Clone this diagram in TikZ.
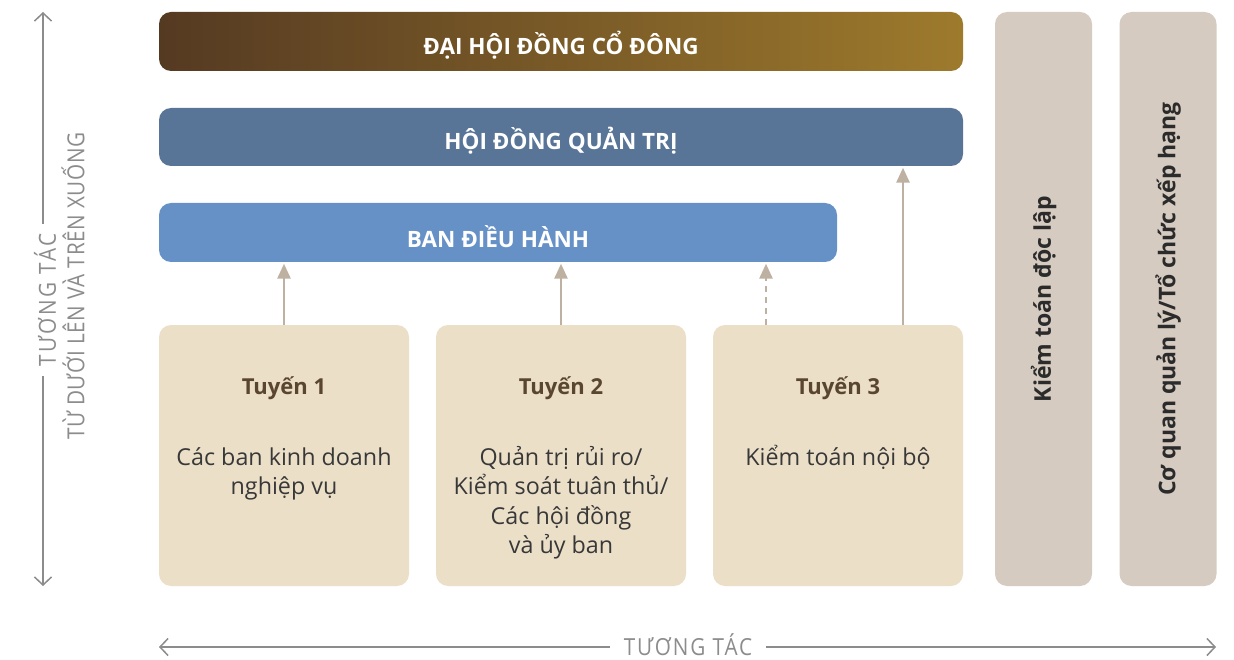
\documentclass[tikz,border=0pt]{standalone}
\usepackage{fontspec}
\setmainfont{Open Sans}
\newfontfamily\axisfont{Open Sans}[FakeStretch=0.88, LetterSpace=3]
\usetikzlibrary{arrows.meta}
\definecolor{gradA}{HTML}{553A22}
\definecolor{gradB}{HTML}{9D7A2C}
\definecolor{hdqtc}{HTML}{587497}
\definecolor{bdhc}{HTML}{6591C7}
\definecolor{tuyenc}{HTML}{EBDFC8}
\definecolor{colc}{HTML}{D6CBC0}
\definecolor{arrc}{HTML}{BFB1A1}
\definecolor{axisc}{HTML}{8C8C8C}
\definecolor{titlec}{HTML}{5A4530}
\definecolor{bodyc}{HTML}{383838}
\definecolor{coltextc}{HTML}{2B2B2B}
\tikzset{
  bar/.style={rounded corners=12pt, inner sep=0pt},
  bartext/.style={inner sep=0pt, text=white,
    font=\fontsize{22.5pt}{26pt}\selectfont\bfseries},
  tbox/.style={rounded corners=12pt, fill=tuyenc, inner sep=0pt,
    minimum width=250pt, minimum height=261pt},
  ttitle/.style={anchor=base, inner sep=0pt, text=titlec,
    font=\fontsize{22pt}{26pt}\selectfont\bfseries},
  tbody/.style={anchor=north, inner sep=0pt, align=center, text=bodyc,
    font=\fontsize{23.3pt}{29.5pt}\selectfont},
  colbox/.style={rounded corners=12pt, fill=colc, inner sep=0pt, rotate=90,
    minimum width=574pt, minimum height=97pt, text=coltextc,
    font=\fontsize{23pt}{26pt}\selectfont\bfseries},
  uparr/.style={draw=arrc, line width=2.8pt, -{Triangle[length=15pt,width=13pt]},
    shorten >=1.5pt},
  axisline/.style={draw=axisc, line width=1.5pt,
    {Straight Barb[length=8pt,width=17pt]}-{Straight Barb[length=8pt,width=17pt]}},
  axistext/.style={text=axisc, inner sep=0pt,
    font=\fontsize{23.5pt}{26pt}\axisfont},
}
\begin{document}
\begin{tikzpicture}[x=1pt,y=-1pt]
\useasboundingbox (0,0) rectangle (1234,660);
\fill[white] (0,0) rectangle (1234,660);

% top bars
\node[bar, left color=gradA, right color=gradB, minimum width=804pt, minimum height=59pt]
  (dhcd) at (561,41.5) {};
\node[bartext] (dhcdt) at ([yshift=-4pt]dhcd.center) {ĐẠI HỘI ĐỒNG CỔ ĐÔNG};
\node[bar, fill=hdqtc, minimum width=804pt, minimum height=58pt]
  (hdqt) at (561,137) {};
\node[bartext] (hdqtt) at ([yshift=-4pt]hdqt.center) {HỘI ĐỒNG QUẢN TRỊ};
\node[bar, fill=bdhc, minimum width=678pt, minimum height=59pt]
  (bdh) at (498,232.5) {};
\node[bartext] (bdht) at ([yshift=-4pt]bdh.center) {BAN ĐIỀU HÀNH};

% tuyen boxes
\node[tbox] (t1) at (284,455.5) {};
\node[tbox] (t2) at (561,455.5) {};
\node[tbox] (t3) at (838,455.5) {};
\node[ttitle] (t1h) at (284,394) {Tuyến 1};
\node[ttitle] (t2h) at (561,394) {Tuyến 2};
\node[ttitle] (t3h) at (838,394) {Tuyến 3};
\node[tbody] (t1b) at (284,442) {\rule{0pt}{23pt}Các ban kinh doanh\\nghiệp vụ};
\node[tbody] (t2b) at (561,442) {\rule{0pt}{23pt}Quản trị rủi ro/\\Kiểm soát tuân thủ/\\Các hội đồng\\và ủy ban};
\node[tbody] (t3b) at (838,442) {\rule{0pt}{23pt}Kiểm toán nội bộ};

% right columns
\node[colbox] (c1) at (1043.5,299) {Kiểm toán độc lập};
\node[colbox] (c2) at (1168,299) {Cơ quan quản lý/Tổ chức xếp hạng};

% arrows
\draw[uparr] (t1.north) -- (t1.north |- bdh.south);
\draw[uparr] (t2.north) -- (t2.north |- bdh.south);
\draw[uparr, dash pattern=on 6pt off 5pt] ([xshift=-72pt]t3.north) -- ([xshift=-72pt]t3.north |- bdh.south);
\draw[uparr] ([xshift=65pt]t3.north) -- ([xshift=65pt]t3.north |- hdqt.south);

% left axis
\coordinate (la) at (43,12);
\coordinate (lb) at (43,586);
\draw[axisline] (la) -- (lb);
\node[axistext, fill=white, rotate=90, inner xsep=9pt, inner ysep=2pt] (lt1) at (45,300) {\addfontfeature{LetterSpace=11}TƯƠNG TÁC};
\node[axistext, rotate=90] (lt2) at (73,286) {TỪ DƯỚI LÊN VÀ TRÊN XUỐNG};

% bottom axis
\coordinate (ba) at (159,647);
\coordinate (bb) at (1216,647);
\draw[axisline] (ba) -- (bb);
\node[axistext, fill=white, inner xsep=14pt, inner ysep=2pt, text depth=0pt, anchor=base] (bt) at (688,655) {\addfontfeature{LetterSpace=8}TƯƠNG TÁC};
\end{tikzpicture}
\end{document}
